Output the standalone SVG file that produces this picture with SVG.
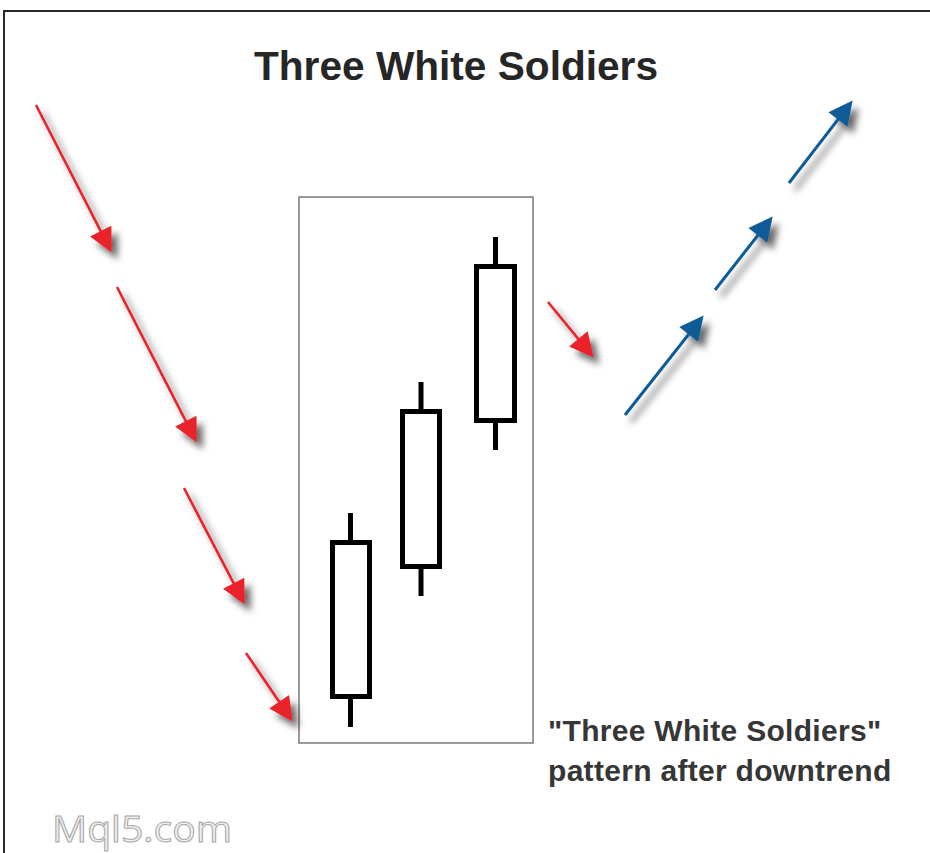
<svg xmlns="http://www.w3.org/2000/svg" width="930" height="853" viewBox="0 0 930 853">
<style>
.frame{fill:none;stroke:#2a2a2a;stroke-width:2}
.box{fill:none;stroke:#7a7a7a;stroke-width:1.5}
.body{fill:#fff;stroke:#000;stroke-width:5}
.wick{stroke:#000;stroke-width:5}
.red{fill:none;stroke:#ea242b;stroke-width:2.6}
.blue{fill:none;stroke:#0f5b98;stroke-width:3}
.title{font-family:"Liberation Sans",Arial,sans-serif;font-weight:bold;font-size:40px;fill:#262626}
.note{font-family:"Liberation Sans",Arial,sans-serif;font-weight:bold;font-size:30px;fill:#363636;letter-spacing:0.3px}
.wm{font-family:"Open Sans","Liberation Sans",sans-serif;font-size:36px;fill:#f0f0f0;stroke:#a8a8a8;stroke-width:1}
</style>
<defs>
<marker id="hr" viewBox="0 0 10 10" refX="6.92" refY="5" markerWidth="26" markerHeight="24" markerUnits="userSpaceOnUse" orient="auto">
<path d="M0,0 L10,5 L0,10 z" fill="#ea242b"/>
</marker>
<marker id="hb" viewBox="0 0 10 10" refX="6.92" refY="5" markerWidth="26" markerHeight="24" markerUnits="userSpaceOnUse" orient="auto">
<path d="M0,0 L10,5 L0,10 z" fill="#0f5b98"/>
</marker>
<filter id="sh" x="-30%" y="-30%" width="160%" height="160%">
<feDropShadow dx="6" dy="7" stdDeviation="3.5" flood-color="#000" flood-opacity="0.6"/>
</filter>
</defs>
<rect width="930" height="853" fill="#fff"/>
<path class="frame" d="M4,853 L4,11 L930,11"/>
<text class="title" x="456" y="80" text-anchor="middle" textLength="404" lengthAdjust="spacingAndGlyphs">Three White Soldiers</text>
<g id="pattern-box"><rect class="box" x="299" y="197" width="234" height="546"/></g>
<g id="candle1">
<line class="wick" x1="350.5" y1="513" x2="350.5" y2="542"/>
<line class="wick" x1="350.5" y1="697" x2="350.5" y2="727"/>
<rect class="body" x="332.5" y="542.5" width="37" height="154"/>
</g>
<g id="candle2">
<line class="wick" x1="421" y1="382" x2="421" y2="411"/>
<line class="wick" x1="421" y1="567" x2="421" y2="596"/>
<rect class="body" x="402.5" y="411.5" width="37" height="155"/>
</g>
<g id="candle3">
<line class="wick" x1="495.5" y1="237" x2="495.5" y2="266"/>
<line class="wick" x1="495.5" y1="421" x2="495.5" y2="450"/>
<rect class="body" x="476.5" y="266.5" width="38" height="154"/>
</g>
<g id="connectors" filter="url(#sh)">
<path class="red" d="M36,105 L108.3,245.9" marker-end="url(#hr)"/>
<path class="red" d="M117,287 L193.4,435.9" marker-end="url(#hr)"/>
<path class="red" d="M184,488 L241.3,597.9" marker-end="url(#hr)"/>
<path class="red" d="M246,653 L288.5,715.4" marker-end="url(#hr)"/>
<path class="red" d="M548,302 L588.9,351.8" marker-end="url(#hr)"/>
<path class="blue" d="M625,415 L699,321.3" marker-end="url(#hb)"/>
<path class="blue" d="M715,290 L768.1,222.3" marker-end="url(#hb)"/>
<path class="blue" d="M789,183 L848.1,106.3" marker-end="url(#hb)"/>
</g>
<text class="note" x="548" y="741">"Three White Soldiers"</text>
<text class="note" x="548" y="781">pattern after downtrend</text>
<text class="wm" x="52" y="842" textLength="180" lengthAdjust="spacingAndGlyphs">Mql5.com</text>
</svg>
